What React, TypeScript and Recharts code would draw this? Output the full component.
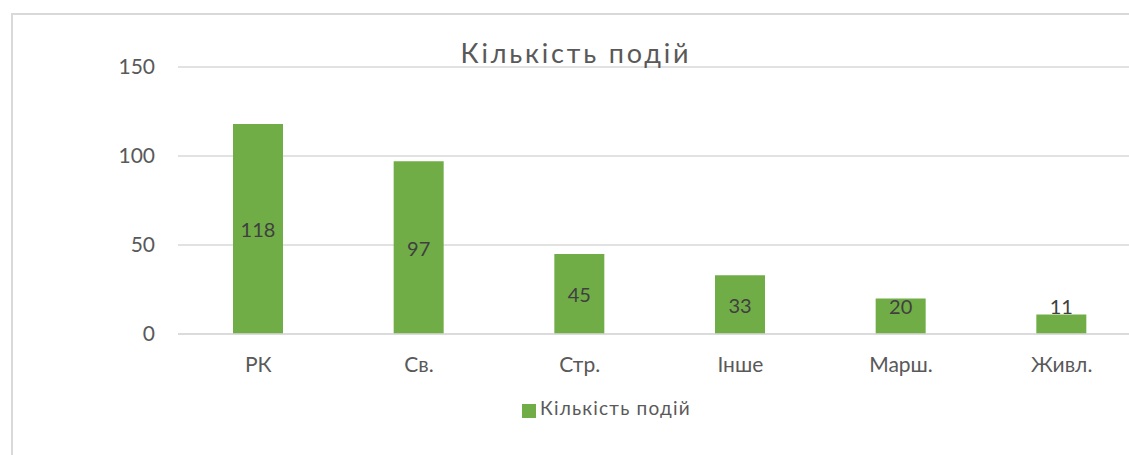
import { Bar, BarChart, CartesianGrid, LabelList, Legend, XAxis, YAxis } from 'recharts'

const categories = ['РК', 'Св.', 'Стр.', 'Інше', 'Марш.', 'Живл.']
const eventCounts = [118, 97, 45, 33, 20, 11]
const yTicks = [0, 50, 100, 150]
const seriesName = 'Кількість подій'
const chartTitle = 'Кількість подій'

const data = categories.map((name, i) => ({ name, count: eventCounts[i] }))

const FONT = 'Lato, "Noto Sans", sans-serif'
const BAR_COLOR = '#70ad47'
const GRID_COLOR = '#d9d9d9'
const TEXT_COLOR = '#595959'

// label sits in the middle of the bar, but is pushed up on short bars
function CenterLabel(props: any) {
  const { x, y, width, height, value } = props
  const base = y + height
  const cy = Math.min(y + height / 2, base - 28)
  return (
    <text
      x={x + width / 2}
      y={cy}
      textAnchor="middle"
      dominantBaseline="central"
      fill="#404040"
      fontSize={20}
      fontFamily={FONT}
    >
      {value}
    </text>
  )
}

export default function App() {
  return (
    <div
      style={{
        position: 'absolute',
        left: 0,
        top: 0,
        width: 1129,
        height: 455,
        overflow: 'hidden',
        background: '#fff',
        fontFamily: FONT,
      }}
    >
      <style>{'html, body { margin: 0; overflow: hidden; }'}</style>
      <div
        style={{
          position: 'absolute',
          left: 11,
          top: 13,
          width: 1200,
          height: 500,
          border: `2px solid ${GRID_COLOR}`,
        }}
      />
      <BarChart
        width={1160}
        height={455}
        data={data}
        margin={{ top: 67, right: 18, bottom: 61, left: 0 }}
        barCategoryGap={0}
      >
        <CartesianGrid vertical={false} stroke={GRID_COLOR} strokeWidth={1.5} />
        <XAxis
          dataKey="name"
          height={60}
          axisLine={{ stroke: GRID_COLOR, strokeWidth: 1.5 }}
          tickLine={false}
          tickSize={0}
          tickMargin={23}
          tick={{ fill: TEXT_COLOR, fontSize: 21, fontFamily: FONT }}
        />
        <YAxis
          width={178}
          domain={[0, 150]}
          ticks={yTicks}
          axisLine={false}
          tickLine={false}
          tickSize={0}
          tickMargin={23}
          tick={{ fill: TEXT_COLOR, fontSize: 21, fontFamily: FONT }}
        />
        <Legend
          verticalAlign="middle"
          align="center"
          iconType="square"
          iconSize={14}
          wrapperStyle={{ top: 396, left: 522, width: 'auto', height: 'auto' }}
          formatter={(value) => (
            <span style={{ color: TEXT_COLOR, fontSize: 19, letterSpacing: 1.2, fontFamily: FONT }}>
              {value}
            </span>
          )}
        />
        <Bar
          dataKey="count"
          name={seriesName}
          fill={BAR_COLOR}
          barSize={50}
          isAnimationActive={false}
        >
          <LabelList dataKey="count" content={CenterLabel} />
        </Bar>
      </BarChart>
      <svg
        width={1129}
        height={455}
        style={{ position: 'absolute', left: 0, top: 0, pointerEvents: 'none' }}
      >
        <text
          x={576}
          y={63}
          textAnchor="middle"
          fill={TEXT_COLOR}
          fontSize={27}
          letterSpacing={2.8}
          fontFamily={FONT}
        >
          {chartTitle}
        </text>
      </svg>
    </div>
  )
}
